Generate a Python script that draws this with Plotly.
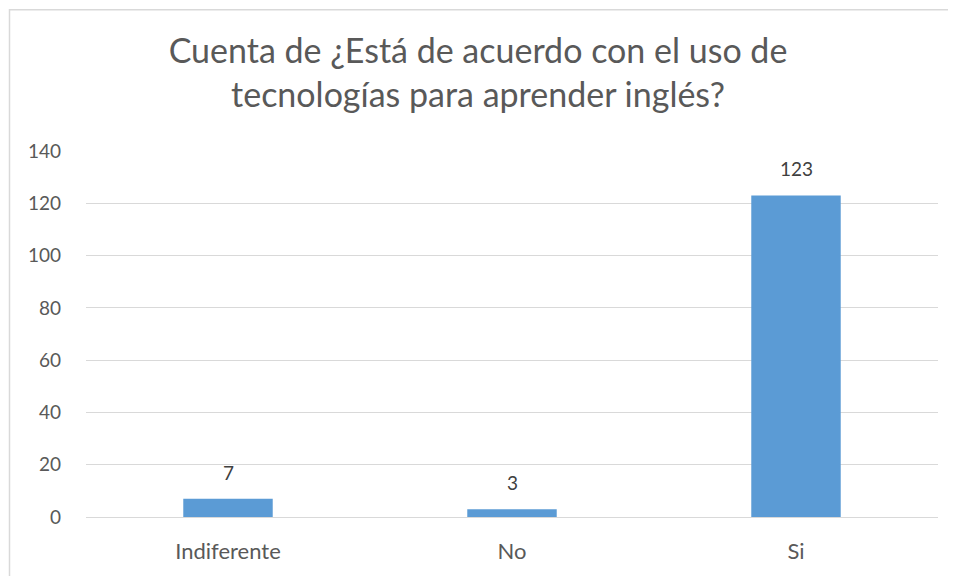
import plotly.graph_objects as go

categories = ["Indiferente", "No", "Si"]
values = [7, 3, 123]
y_ticks = [0, 20, 40, 60, 80, 100, 120, 140]
title_text = "Cuenta de ¿Está de acuerdo con el uso de<br>tecnologías para aprender inglés?"

# page has an 8px body margin; figure sized so it fills the window
OFF = 8
W, H = 956 - OFF, 576 - OFF
ML, MR, MT, MB = 86 - OFF, 18, 151 - OFF, 57
PW, PH = W - ML - MR, H - MT - MB
FONT = "Lato, 'Open Sans', sans-serif"

fig = go.Figure()
fig.add_trace(go.Bar(
    x=categories, y=values, width=0.315,
    marker=dict(color="#5B9BD5", line=dict(width=0)),
    hoverinfo="x+y",
))

for c, v in zip(categories, values):
    fig.add_annotation(x=c, y=v, text=str(v), showarrow=False,
                       yanchor="bottom", yshift=13,
                       font=dict(family=FONT, size=19, color="#404040"))

def px_x(p):
    return (p - OFF - ML) / PW

def px_y(p):
    return (H - MB - (p - OFF)) / PH

fig.add_shape(type="rect", xref="paper", yref="paper",
              x0=px_x(9.5), x1=px_x(962), y0=px_y(582), y1=px_y(9),
              line=dict(color="#D9D9D9", width=1.5), fillcolor="rgba(0,0,0,0)")

fig.update_layout(
    width=W, height=H,
    margin=dict(l=ML, r=MR, t=MT, b=MB),
    paper_bgcolor="white", plot_bgcolor="white",
    showlegend=False,
    title=dict(text=title_text, x=(478 - OFF) / W, xanchor="center", xref="container",
               y=1 - 55 / H, yanchor="top", yref="container",
               font=dict(family=FONT, size=34, color="#595959")),
    font=dict(family=FONT, color="#595959"),
    bargap=0.68,
)
fig.update_yaxes(range=[0, 140], tickvals=y_ticks, showgrid=True,
                 gridcolor="#D9D9D9", gridwidth=1.3, zeroline=False,
                 showline=False, ticks="", ticklabelstandoff=24,
                 tickfont=dict(family=FONT, size=19, color="#595959"))
fig.update_xaxes(showline=True, linecolor="#D9D9D9", linewidth=1.3,
                 ticks="", ticklabelstandoff=14,
                 tickfont=dict(family=FONT, size=22, color="#595959"))

fig.write_html("out.html")
